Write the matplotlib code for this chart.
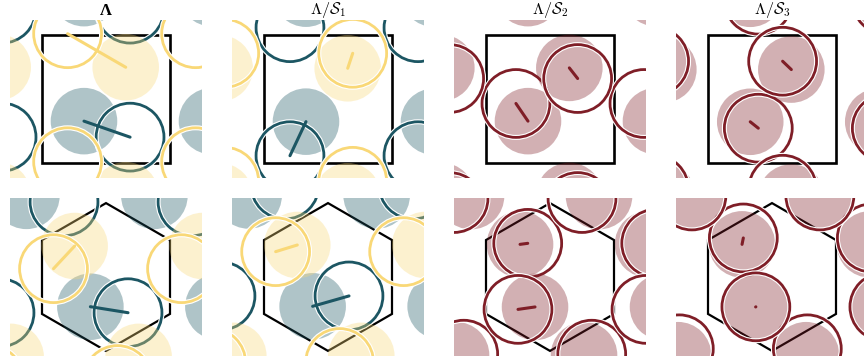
import numpy as np
import matplotlib
matplotlib.use("Agg")
import matplotlib.pyplot as plt
from matplotlib.patches import Circle, Polygon
import matplotlib.patheffects as pe

plt.rcParams["mathtext.fontset"] = "cm"

# colours
teal = "#1c5663"
yellow = "#f9d877"
red = "#7f1e27"
fill_alpha = 0.35

# radii in units of the lattice constant
r_fill = 0.26
r_ring = 0.265

titles = ["Λ", r"$\Lambda/\mathcal{S}_1$",
          r"$\Lambda/\mathcal{S}_2$", r"$\Lambda/\mathcal{S}_3$"]

# square lattice: (fill centre, ring centre) per site, relative to cell centre
sq_lambda_teal = [(-0.172, -0.173), (0.188, -0.298)]
sq_lambda_yellow = [(0.154, 0.248), (-0.300, 0.510)]
sq_s1_teal = [(-0.172, -0.177), (-0.297, -0.443)]
sq_s1_yellow = [(0.154, 0.240), (0.193, 0.357)]
sq_s2_a = [(-0.172, -0.173), (-0.266, -0.035)]
sq_s2_b = [(0.151, 0.243), (0.216, 0.160)]
sq_s3_a = [(-0.170, -0.178), (-0.107, -0.228)]
sq_s3_b = [(0.151, 0.230), (0.083, 0.295)]

# triangular lattice
hx_lambda_teal = [(-0.122, -0.232), (0.172, -0.279)]
hx_lambda_yellow = [(-0.245, 0.242), (-0.410, 0.065)]
hx_s1_teal = [(-0.120, -0.229), (0.164, -0.148)]
hx_s1_yellow = [(-0.240, 0.250), (-0.409, 0.198)]
hx_s2_a = [(-0.234, 0.255), (-0.174, 0.263)]
hx_s2_b = [(-0.117, -0.234), (-0.250, -0.253)]
hx_s3_a = [(-0.234, 0.255), (-0.224, 0.305)]
hx_s3_b = [(-0.128, -0.234), (-0.126, -0.233)]

square_panels = [
    [(sq_lambda_teal, teal), (sq_lambda_yellow, yellow)],
    [(sq_s1_teal, teal), (sq_s1_yellow, yellow)],
    [(sq_s2_a, red), (sq_s2_b, red)],
    [(sq_s3_a, red), (sq_s3_b, red)],
]
hex_panels = [
    [(hx_lambda_teal, teal), (hx_lambda_yellow, yellow)],
    [(hx_s1_teal, teal), (hx_s1_yellow, yellow)],
    [(hx_s2_a, red), (hx_s2_b, red)],
    [(hx_s3_a, red), (hx_s3_b, red)],
]

sq_vecs = np.array([[1.0, 0.0], [0.0, 1.0]])
hx_vecs = np.array([[1.0, 0.0], [0.5, np.sqrt(3) / 2]])


def cell_outline(kind):
    if kind == "square":
        return np.array([[-0.5, -0.5], [0.5, -0.5], [0.5, 0.5], [-0.5, 0.5]])
    ang = np.deg2rad(90 + 60 * np.arange(6))
    return np.column_stack([np.cos(ang), np.sin(ang)]) / np.sqrt(3)


def draw_panel(ax, species, vecs, kind):
    ax.add_patch(Polygon(cell_outline(kind), closed=True, fill=False,
                         ec="black", lw=1.9 if kind == "square" else 1.6,
                         joinstyle="miter", zorder=1))
    shifts = [i * vecs[0] + j * vecs[1] for i in range(-3, 4) for j in range(-3, 4)]
    z = 2
    for (fill_c, ring_c), color in species:
        fill_c = np.array(fill_c)
        ring_c = np.array(ring_c)
        for s in shifts:
            ax.add_patch(Circle(fill_c + s, r_fill, fc=color, ec="none",
                                alpha=fill_alpha, zorder=z))
        for s in shifts:
            ring = Circle(ring_c + s, r_ring, fc="none", ec=color, lw=2.0,
                          zorder=z + 1)
            ring.set_path_effects([pe.withStroke(linewidth=3.6, foreground="white")])
            ax.add_patch(ring)
        # displacement only drawn for the sites of the central cell
        ax.plot([fill_c[0], ring_c[0]], [fill_c[1], ring_c[1]], color=color,
                lw=2.2, solid_capstyle="round", zorder=z + 2)
        z += 3
    ax.set_xlim(-0.75, 0.75)
    ax.set_ylim(-0.62, 0.62)
    ax.set_axis_off()


fig = plt.figure(figsize=(8.64, 3.64), dpi=100)
W, H = 864.0, 364.0
centers_x = [106, 328, 550, 772]
half_w, half_h = 96.0, 79.36
row_cy = [99.0, 277.0]

for k in range(4):
    left = (centers_x[k] - half_w) / W
    for row, (panels, vecs, kind) in enumerate(
            [(square_panels, sq_vecs, "square"), (hex_panels, hx_vecs, "hex")]):
        bottom = (H - row_cy[row] - half_h) / H
        ax = fig.add_axes([left, bottom, 2 * half_w / W, 2 * half_h / H])
        draw_panel(ax, panels[k], vecs, kind)
        if row == 0:
            if k == 0:
                ax.set_title(titles[k], fontsize=12, pad=3,
                             family="Liberation Serif", fontweight="bold")
            else:
                ax.set_title(titles[k], fontsize=11.5, pad=2)

fig.savefig("out.png", dpi=100)
